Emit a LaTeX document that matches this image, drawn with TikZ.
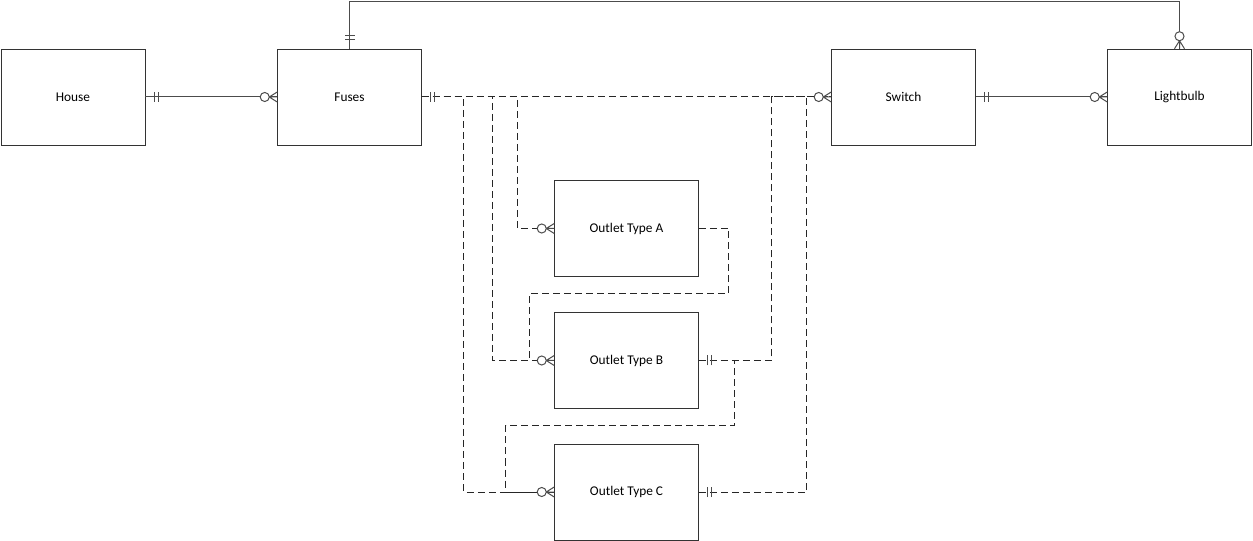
\documentclass[tikz,border=0pt]{standalone}
\usepackage{fontspec}
\setmainfont{Carlito}

\begin{document}
\begin{tikzpicture}[x=0.75pt,y=-0.75pt,
  entity/.style={draw=black!80, fill=white, minimum width=108pt, minimum height=72pt, inner sep=0pt, font=\fontsize{10}{12}\selectfont},
  rel/.style={draw=black!70, line width=0.75pt},
  link/.style={rel, draw=black!85, dash pattern=on 5.25pt off 3pt},
  onlyone/.pic={\draw[black!70, solid, line width=0.75pt] (-9,-5) -- (-9,5) (-13,-5) -- (-13,5);},
  zeromany/.pic={\draw[black!70, solid, line width=0.75pt] (0,-5) -- (-8,0) -- (0,5) (-8,0) -- (0,0);
    \draw[black!70, solid, fill=white, line width=0.75pt] (-12.5,0) circle[radius=3.4pt];}]
\useasboundingbox (0,0) rectangle (1253,541);

\node[entity] (house) at (73,97) {House};
\node[entity] (fuses) at (349.5,97) {Fuses};
\node[entity] (switch) at (903.5,97) {Switch};
\node[entity] (bulb) at (1179.5,97) {Lightbulb};
\node[entity] (outA) at (626.5,228.5) {Outlet Type A};
\node[entity] (outB) at (626.5,360.5) {Outlet Type B};
\node[entity] (outC) at (626.5,492) {Outlet Type C};

% solid relations
\draw[rel] (house.east) -- (fuses.west);
\draw[rel] (switch.east) -- (bulb.west);
\draw[rel] (fuses.north) -- ++(0,-47) -| (bulb.north);

% dashed relations
\draw[link] (fuses.east) -- (switch.west);
\draw[link] (fuses.east) -- ++(96,0) |- (outA.west);
\draw[link] (fuses.east) -- ++(71,0) |- (outB.west);
\draw[link] (fuses.east) -- ++(42,0) |- (outC.west);
\draw[link] (outA.east) -- ++(30,0) -- ++(0,65) -- ++(-199,0) |- (outB.west);
\draw[link] (outB.east) -- ++(73,0) |- (switch.west);
\draw[link] (outB.east) -- ++(36,0) -- ++(0,65) -- ++(-229,0) |- (outC.west);
\draw[link] (outC.east) -- ++(108,0) |- (switch.west);

% ends
\pic[rotate=180] at (house.east) {onlyone};
\pic at (fuses.west) {zeromany};
\pic[rotate=-90] at (fuses.north) {onlyone};
\pic[rotate=-90] at (bulb.north) {zeromany};
\pic[rotate=180] at (switch.east) {onlyone};
\pic at (bulb.west) {zeromany};
\pic[rotate=180] at (fuses.east) {onlyone};
\pic at (switch.west) {zeromany};
\pic at (outA.west) {zeromany};
\pic at (outB.west) {zeromany};
\pic at (outC.west) {zeromany};
\pic[rotate=180] at (outB.east) {onlyone};
\pic[rotate=180] at (outC.east) {onlyone};
\end{tikzpicture}
\end{document}
